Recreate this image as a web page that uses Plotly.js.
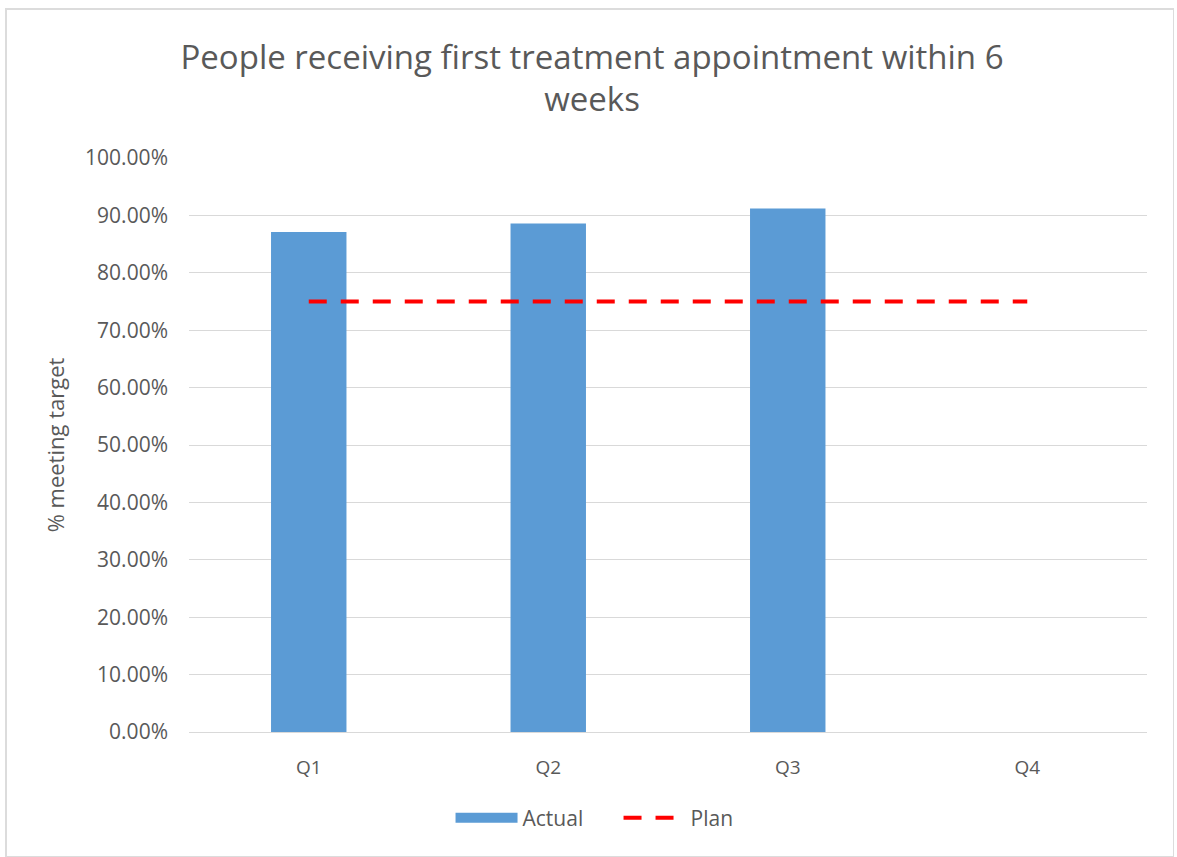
<!DOCTYPE html>
<html>
<head>
<meta charset="utf-8">
<script src="https://cdn.plot.ly/plotly-3.0.1.min.js"></script>
<style>
html,body{margin:0;padding:0;background:#fff;}
#frame{position:absolute;left:5px;top:8px;width:1166px;height:846px;border:2px solid #dcdcdc;border-right-width:1px;border-bottom-width:1px;}
#chart{position:absolute;left:0;top:0;width:1177px;height:857px;}
</style>
</head>
<body>
<div id="frame"></div>
<div id="chart"></div>
<script>
const quarters = ['Q1', 'Q2', 'Q3', 'Q4'];
const actual = [0.871, 0.886, 0.912, null];
const plan = [0.75, 0.75, 0.75, 0.75];
const yTicks = [0, 0.1, 0.2, 0.3, 0.4, 0.5, 0.6, 0.7, 0.8, 0.9, 1.0];

const FONT = '"Open Sans", Lato, sans-serif';
const grey = '#595959';
const barColor = '#5b9bd5';

const traces = [
  {
    type: 'bar', name: 'Actual', x: quarters, y: actual,
    marker: {color: barColor}, width: 0.315, showlegend: false
  },
  {
    // legend entry for the bars (wide rectangular swatch as in the original)
    type: 'scatter', mode: 'lines', name: 'Actual', x: [null], y: [null],
    line: {color: barColor, width: 14}, showlegend: true
  },
  {
    type: 'scatter', mode: 'lines', name: 'Plan', x: quarters, y: plan,
    line: {color: '#ff0000', width: 4, dash: '18px,14px'}
  }
];

const layout = {
  width: 1177, height: 857,
  paper_bgcolor: 'rgba(0,0,0,0)', plot_bgcolor: 'rgba(0,0,0,0)',
  margin: {l: 189, r: 30, t: 158, b: 125, pad: 0},
  font: {family: FONT, color: grey, size: 16},
  title: {
    text: 'People receiving first treatment appointment within 6<br>weeks',
    font: {family: FONT, size: 33, color: grey},
    x: 0.503, xanchor: 'center', y: 0.92, yanchor: 'middle'
  },
  xaxis: {
    type: 'category', tickvals: quarters, ticktext: quarters,
    showgrid: false, zeroline: false, showline: false, ticks: '',
    ticklabelstandoff: 22,
    tickfont: {size: 19, color: grey}, fixedrange: true
  },
  yaxis: {
    range: [0, 1.0001], tickvals: yTicks, tickformat: '.2%',
    showgrid: true, gridcolor: '#d9d9d9', gridwidth: 1,
    zeroline: true, zerolinecolor: '#d9d9d9', zerolinewidth: 1,
    showline: false, ticks: '', ticklabelstandoff: 20,
    tickfont: {size: 21, color: grey},
    title: {text: '% meeting target', font: {size: 22, color: grey}, standoff: 14},
    automargin: false
  },
  showlegend: true,
  legend: {
    orientation: 'h', x: 0.273, xanchor: 'left', y: -0.15, yanchor: 'middle',
    font: {size: 21, color: grey}, itemwidth: 62, entrywidth: 91,
    traceorder: 'normal'
  },
  bargap: 0.685
};

Plotly.newPlot('chart', traces, layout, {displayModeBar: false, staticPlot: true});
</script>
</body>
</html>
